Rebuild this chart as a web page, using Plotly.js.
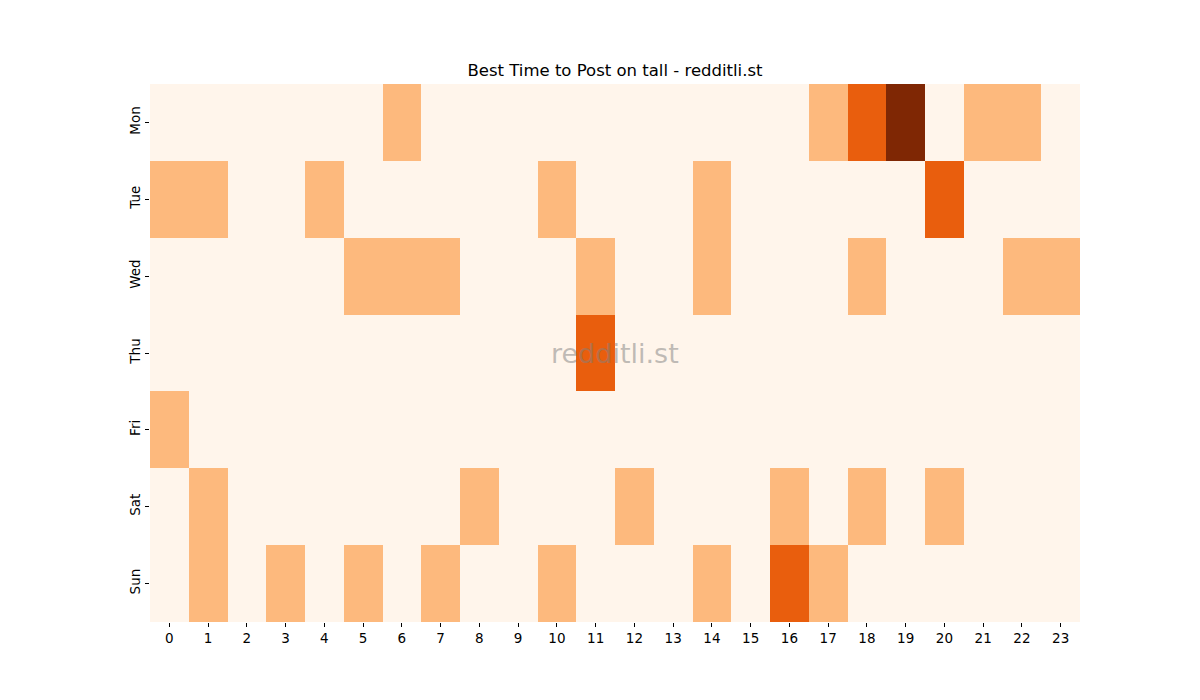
<!DOCTYPE html>
<html>
<head>
<meta charset="utf-8">
<script src="https://cdn.plot.ly/plotly-3.0.1.min.js"></script>
<style>
	body { margin: 0; background: #ffffff; }
	#plot { width: 1200px; height: 700px; }
</style>
</head>
<body>
<div id="plot"></div>
<script>
// hours along the bottom, days down the side (Mon on top)
var hours = [0,1,2,3,4,5,6,7,8,9,10,11,12,13,14,15,16,17,18,19,20,21,22,23];
var days = ['Mon', 'Tue', 'Wed', 'Thu', 'Fri', 'Sat', 'Sun'];

// post activity per day, one value per hour
var mon = [0,0,0,0,0,0,1,0,0,0,0,0,0,0,0,0,0,1,2,3,0,1,1,0];
var tue = [1,1,0,0,1,0,0,0,0,0,1,0,0,0,1,0,0,0,0,0,2,0,0,0];
var wed = [0,0,0,0,0,1,1,1,0,0,0,1,0,0,1,0,0,0,1,0,0,0,1,1];
var thu = [0,0,0,0,0,0,0,0,0,0,0,2,0,0,0,0,0,0,0,0,0,0,0,0];
var fri = [1,0,0,0,0,0,0,0,0,0,0,0,0,0,0,0,0,0,0,0,0,0,0,0];
var sat = [0,1,0,0,0,0,0,0,1,0,0,0,1,0,0,0,1,0,1,0,1,0,0,0];
var sun = [0,1,0,1,0,1,0,1,0,0,1,0,0,0,1,0,2,1,0,0,0,0,0,0];

var counts = [mon, tue, wed, thu, fri, sat, sun];

function initiatePlot() {

	var heat = {
		type: 'heatmap',
		x: hours,
		y: days,
		z: counts,
		zmin: 0,
		zmax: 3,
		// matplotlib "Oranges" sampled at 0, 1/3, 2/3, 1
		colorscale: [
			[0, '#fff5eb'],
			[1/3, '#fdb97d'],
			[2/3, '#e95e0d'],
			[1, '#7f2704']
		],
		showscale: false,
		xgap: 0,
		ygap: 0,
		hoverinfo: 'skip'
	};

	var layout = {
		autosize: false,
		width: 1200,
		height: 700,
		paper_bgcolor: '#ffffff',
		plot_bgcolor: '#ffffff',
		margin: {
			l: 150,
			r: 120,
			t: 84,
			b: 78
		},
		font: {
			family: 'DejaVu Sans, sans-serif',
			size: 13.5,
			color: '#000000'
		},
		title: {
			text: 'Best Time to Post on tall - redditli.st',
			font: { size: 16.5, color: '#000000' },
			xref: 'paper',
			x: 0.5,
			xanchor: 'center',
			y: 1 - 70 / 700,
			yanchor: 'middle'
		},
		xaxis: {
			type: 'category',
			tickmode: 'array',
			tickvals: hours,
			ticktext: hours.map(String),
			ticks: 'outside',
			ticklen: 4,
			tickwidth: 1,
			tickcolor: '#000000',
			showgrid: false,
			zeroline: false,
			showline: false,
			fixedrange: true
		},
		yaxis: {
			type: 'category',
			autorange: 'reversed',
			tickangle: -90,
			ticks: 'outside',
			ticklen: 4,
			tickwidth: 1,
			tickcolor: '#000000',
			showgrid: false,
			zeroline: false,
			showline: false,
			fixedrange: true
		},
		annotations: [
			{
				text: 'redditli.st',
				xref: 'paper',
				yref: 'paper',
				x: 0.5,
				y: 0.5,
				xanchor: 'center',
				yanchor: 'middle',
				showarrow: false,
				font: { size: 27, color: 'rgba(128,128,128,0.5)' }
			}
		]
	};

	Plotly.newPlot('plot', [heat], layout, { displayModeBar: false, staticPlot: true });
}

initiatePlot();
</script>
</body>
</html>
